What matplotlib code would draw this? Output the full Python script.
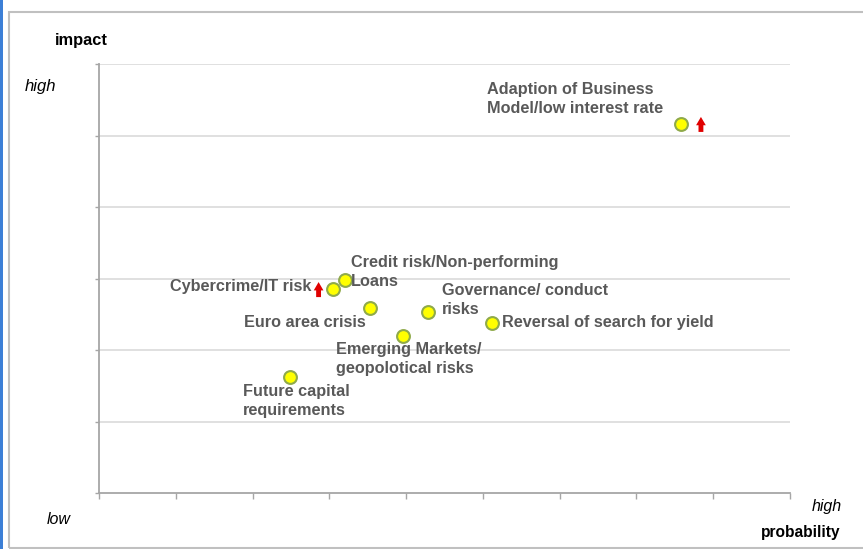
import matplotlib.pyplot as plt
from matplotlib.patches import Rectangle

plt.rcParams['font.family'] = ['Liberation Sans', 'DejaVu Sans']

# risk map data #
risks = ['Adaption of Business\nModel/low interest rate',
         'Credit risk/Non-performing\nLoans',
         'Cybercrime/IT risk',
         'Euro area crisis',
         'Governance/ conduct\nrisks',
         'Reversal of search for yield',
         'Emerging Markets/\ngeopolotical risks',
         'Future capital\nrequirements']
probability = [7.58, 3.20, 3.05, 3.53, 4.28, 5.12, 3.96, 2.49]
impact = [5.16, 2.98, 2.85, 2.59, 2.53, 2.38, 2.20, 1.62]

# rising risks (red arrows)
arrow_x = [7.84, 2.86]
arrow_y = [5.15, 2.84]

# label offsets in pixels, alignment
offsets = [(-194, 25, 'left'), (6, 8, 'left'), (-22, 3, 'right'), (-4, -15, 'right'),
           (14, 12, 'left'), (10, 0, 'left'), (-67, -23, 'left'), (-47, -24, 'left')]

W, H = 863, 549
fig = plt.figure(figsize=(W / 100, H / 100), dpi=100)
ax = fig.add_axes([99 / W, (H - 493) / H, (790 - 99) / W, (493 - 64) / H])

# frame round the whole chart
fig.patches.append(Rectangle((9 / W, 1 / H), (870 - 9) / W, (537 - 1) / H, transform=fig.transFigure,
                             fill=False, edgecolor='#c0c0c0', linewidth=1.5))
fig.patches.append(Rectangle((0, 0), 3 / W, 1, transform=fig.transFigure,
                             facecolor='#3c7fd6', edgecolor='none'))

ax.set_xlim(0, 9)
ax.set_ylim(0, 6)
ax.set_xticks(range(10))
ax.set_yticks(range(7))
ax.set_xticklabels([])
ax.set_yticklabels([])
for y in range(1, 7):
	ax.axhline(y, color='#dadada', linewidth=1.2, zorder=0)
for s in ['top', 'right']:
	ax.spines[s].set_visible(False)
for s in ['left', 'bottom']:
	ax.spines[s].set_color('#a6a6a6')
	ax.spines[s].set_linewidth(1.3)
ax.tick_params(axis='x', direction='out', length=4, color='#a6a6a6', width=1)
ax.tick_params(axis='y', direction='out', length=3, color='#a6a6a6', width=1)

ax.scatter(probability, impact, s=85, color='#ffff00', edgecolor='#8faa4a', linewidth=1.5, zorder=3)

for name, x, y, (dx, dy, ha) in zip(risks, probability, impact, offsets):
	ax.annotate(name, (x, y), xytext=(dx, dy), textcoords='offset pixels', ha=ha, va='center',
	            fontsize=11.7, fontweight='bold', color='#595959', linespacing=1.3)

for x, y in zip(arrow_x, arrow_y):
	ax.annotate('', xy=(x, y + 0.11), xytext=(x, y - 0.1),
	            arrowprops=dict(arrowstyle='simple,head_width=0.7,head_length=0.6,tail_width=0.35',
	                            mutation_scale=10, color='#e00000', lw=0, shrinkA=0, shrinkB=0))

fig.text(55 / W, 1 - 40 / H, 'impact', fontsize=11.8, fontweight='bold', va='center', ha='left')
fig.text(25 / W, 1 - 86 / H, 'high', fontsize=12, fontstyle='italic', va='center', ha='left')
fig.text(47 / W, 1 - 520 / H, 'low', fontsize=11.5, fontstyle='italic', va='center', ha='left')
fig.text(842 / W, 1 - 507 / H, 'high', fontsize=11.5, fontstyle='italic', va='center', ha='right')
fig.text(841 / W, 1 - 533 / H, 'probability', fontsize=11.2, fontweight='bold', va='center', ha='right')

plt.savefig('out.png', dpi=100)
